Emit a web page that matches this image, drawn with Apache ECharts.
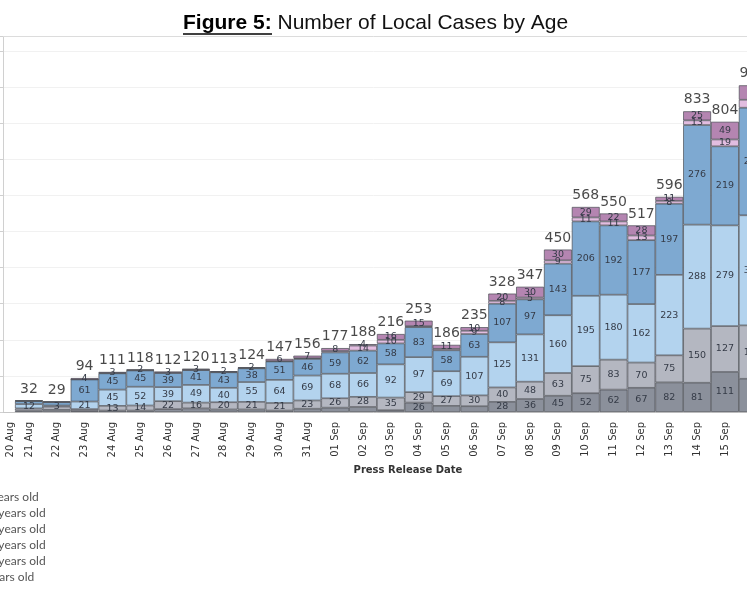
<!DOCTYPE html>
<html>
<head>
<meta charset="utf-8">
<style>
  html, body { margin: 0; padding: 0; background: #fff; }
  #chart { width: 747px; height: 598px; }
</style>
<script src="https://cdn.jsdelivr.net/npm/echarts@6/dist/echarts.min.js"></script>
</head>
<body>
<div id="chart"></div>
<script>
// press release dates (20 Aug has no bar, 16 Sep is cut at the right edge)
const dates = [
  '20 Aug', '21 Aug', '22 Aug', '23 Aug', '24 Aug', '25 Aug', '26 Aug', '27 Aug',
  '28 Aug', '29 Aug', '30 Aug', '31 Aug', '01 Sep', '02 Sep', '03 Sep', '04 Sep',
  '05 Sep', '06 Sep', '07 Sep', '08 Sep', '09 Sep', '10 Sep', '11 Sep', '12 Sep',
  '13 Sep', '14 Sep', '15 Sep', '16 Sep'
];

// stack from bottom to top
const age70 = [null, 4, 6, 3, 4, 4, 8, 10, 7, 7, 4, 9, 12, 14, 5, 26, 17, 16, 28, 36, 45, 52, 62, 67, 82, 81, 111, 92];
const age60 = [null, 6, 9, 5, 13, 14, 22, 16, 20, 21, 21, 23, 26, 28, 35, 29, 27, 30, 40, 48, 63, 75, 83, 70, 75, 150, 127, 148];
const age40 = [null, 12, 3, 21, 45, 52, 39, 49, 40, 55, 64, 69, 68, 66, 92, 97, 69, 107, 125, 131, 160, 195, 180, 162, 223, 288, 279, 305];
const age20 = [null, 8, 9, 61, 45, 45, 39, 41, 43, 38, 51, 46, 59, 62, 58, 83, 58, 63, 107, 97, 143, 206, 192, 177, 197, 276, 219, 298];
const age12 = [null, 1, 1, 0, 1, 1, 1, 1, 1, 1, 1, 2, 4, 14, 10, 3, 4, 9, 8, 5, 9, 11, 11, 13, 8, 13, 19, 22];
const age0 = [null, 1, 1, 4, 3, 2, 3, 3, 2, 2, 6, 7, 8, 4, 16, 15, 11, 10, 20, 30, 30, 29, 22, 28, 11, 25, 49, 40];

const totals = [null, 32, 29, 94, 111, 118, 112, 120, 113, 124, 147, 156, 177, 188, 216, 253, 186, 235, 328, 347, 450, 568, 550, 517, 596, 833, 804, 905];

const legendNames = ['0-11 years old', '12-19 years old', '20-39 years old', '40-59 years old', '60-69 years old', '≥70 years old'];

const chart = echarts.init(document.getElementById('chart'));

const segFont = 'DejaVu Sans';

function segment(name, data, color, minLabel) {
  return {
    name: name,
    type: 'bar',
    stack: 'age',
    barCategoryGap: '0%',
    data: data,
    itemStyle: { color: color, borderColor: '#4a4d55', borderWidth: 0.7 },
    label: {
      show: true,
      position: 'inside',
      fontFamily: segFont,
      fontSize: 9.5,
      color: '#353b47',
      formatter: p => (p.value >= minLabel ? p.value : '')
    },
    emphasis: { disabled: true }
  };
}

const option = {
  animation: false,
  title: {
    text: '{b|Figure 5:}{n| Number of Local Cases by Age}',
    left: 183,
    top: 13,
    padding: 0,
    textStyle: {
      rich: {
        b: { fontFamily: 'Liberation Sans', fontWeight: 'bold', fontSize: 21, color: '#000' },
        n: { fontFamily: 'Liberation Sans', fontWeight: 'normal', fontSize: 21, color: '#111' }
      }
    }
  },
  graphic: [{
    type: 'line',
    shape: { x1: 183, y1: 34, x2: 272, y2: 34 },
    style: { stroke: '#000', lineWidth: 1.5 }
  }],
  legend: {
    orient: 'vertical',
    left: -57,
    top: 490,
    height: 120,
    padding: 0,
    itemWidth: 14,
    itemHeight: 12,
    itemGap: 2,
    icon: 'rect',
    data: legendNames,
    textStyle: { fontFamily: 'Lato', fontSize: 12, color: '#555' }
  },
  grid: {
    left: -12.84,
    right: -19.7,
    top: 36.6,
    bottom: 186,
    containLabel: false,
    outerBoundsMode: 'none'
  },
  xAxis: [{
    type: 'category',
    data: dates,
    position: 'bottom',
    axisLine: { lineStyle: { color: '#c8c8c8' } },
    axisTick: { alignWithLabel: true, length: 4, lineStyle: { color: '#999' } },
    axisLabel: {
      interval: 0,
      rotate: 90,
      margin: 10,
      fontFamily: 'DejaVu Sans',
      fontSize: 10,
      color: '#333',
      formatter: (v, i) => (i === 0 ? '{shift|' + v + '}' : v),
      rich: {
        shift: { padding: [18, 0, 0, 0], fontFamily: 'DejaVu Sans', fontSize: 10, color: '#333' }
      }
    },
    name: 'Press Release Date',
    nameLocation: 'middle',
    nameGap: 49,
    nameTextStyle: {
      fontFamily: 'DejaVu Sans',
      fontWeight: 'bold',
      fontSize: 10,
      color: '#333',
      padding: [0, 0, 0, 62]
    }
  }, {
    type: 'category',
    data: dates,
    position: 'top',
    axisLine: { lineStyle: { color: '#dcdcdc' } },
    axisTick: { show: false },
    axisLabel: { show: false }
  }],
  yAxis: {
    type: 'value',
    min: 0,
    max: 1040,
    interval: 100,
    offset: -15.84,
    axisLine: { show: true, lineStyle: { color: '#d0d0d0' } },
    axisTick: { show: true, length: 3, lineStyle: { color: '#d0d0d0' } },
    axisLabel: { show: false },
    splitLine: { lineStyle: { color: '#f1f1f1' } }
  },
  series: [
    segment(legendNames[5], age70, '#8b909b', 20),
    segment(legendNames[4], age60, '#b4b7c1', 10),
    segment(legendNames[3], age40, '#b3d3ee', 2),
    segment(legendNames[2], age20, '#7ea9d1', 10),
    segment(legendNames[1], age12, '#e2bde0', 5),
    segment(legendNames[0], age0, '#b485b1', 2),
    {
      name: 'Total',
      type: 'scatter',
      data: totals,
      symbolSize: 1,
      itemStyle: { color: 'rgba(0,0,0,0)' },
      silent: true,
      z: 5,
      label: {
        show: true,
        position: 'top',
        distance: 4,
        fontFamily: 'DejaVu Sans',
        fontSize: 14,
        color: '#1a1a1a'
      }
    }
  ]
};

chart.setOption(option);
</script>
</body>
</html>
